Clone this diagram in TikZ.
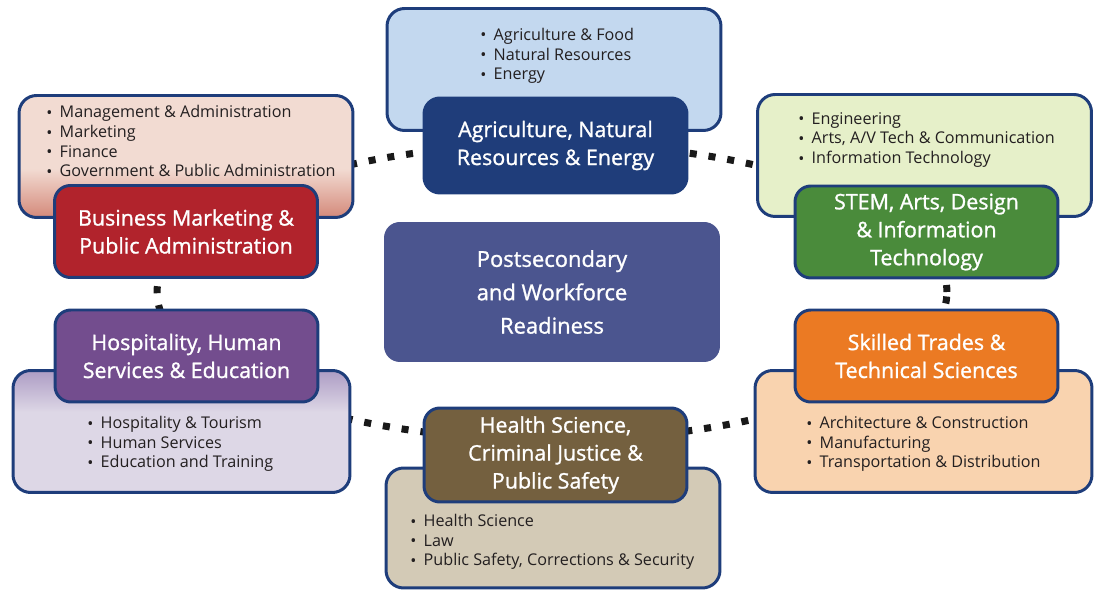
\documentclass[tikz,border=0pt]{standalone}
\usepackage{fontspec}
\setmainfont{Open Sans}
\newfontfamily\headfont[FakeBold=1.2]{Open Sans}
\newcommand\blt{\raisebox{-0.03em}{\textbullet}\hspace{0.45em}}
\definecolor{rim}{HTML}{1E3D7B}
\definecolor{ink}{HTML}{231F20}
\definecolor{bizpale}{HTML}{F2DBD2}
\definecolor{bizdeep}{HTML}{D4897A}
\definecolor{bizdark}{HTML}{B1232C}
\definecolor{agripale}{HTML}{C3D8EF}
\definecolor{agridark}{HTML}{1F3D7A}
\definecolor{stempale}{HTML}{E6F0C9}
\definecolor{stemdark}{HTML}{4A8B3B}
\definecolor{hosppale}{HTML}{DDD7E6}
\definecolor{hospdeep}{HTML}{AD9CC4}
\definecolor{hospdark}{HTML}{734D8E}
\definecolor{hlthpale}{HTML}{D3CAB6}
\definecolor{hlthdark}{HTML}{74603F}
\definecolor{skillpale}{HTML}{F9D3AF}
\definecolor{skilldark}{HTML}{EB7A23}
\definecolor{core}{HTML}{4B558F}
\pgfdeclareverticalshading{bizfade}{100bp}{color(0bp)=(bizdeep); color(25bp)=(bizdeep); color(45bp)=(bizpale); color(100bp)=(bizpale)}
\pgfdeclareverticalshading{hospfade}{100bp}{color(0bp)=(hosppale); color(58bp)=(hosppale); color(75bp)=(hospdeep); color(100bp)=(hospdeep)}
\begin{document}
\begin{tikzpicture}[x=0.02cm,y=-0.02cm,
  listbox/.style={draw=rim,line width=1.7pt,rounded corners=10pt,
    minimum width=6.68cm,minimum height=2.44cm,inner sep=0pt},
  titlebox/.style={draw=rim,line width=1.7pt,rounded corners=9pt,
    minimum width=5.26cm,minimum height=1.84cm,inner sep=0pt,
    text=white,align=center,font=\headfont\fontsize{12.2}{15.9}\selectfont},
  listtext/.style={anchor=west,inner sep=0pt,align=left,text=ink,
    font=\fontsize{9.2}{11.2}\selectfont},
  ring/.style={line width=4pt,dash pattern=on 4pt off 6.8pt,black!90}]
\useasboundingbox (0,0) rectangle (1098,590);
% dotted ring behind the boxes
\coordinate (hub) at (552,292);
\draw[ring] (hub) ellipse [x radius=7.9cm,y radius=2.96cm];
\node[listbox,shading=bizfade] (bizbox) at (186,156.5) {};
\node[listbox,fill=agripale] (agribox) at (554,69.5) {};
\node[listbox,fill=stempale] (stembox) at (924.5,155.5) {};
\node[listbox,shading=hospfade,minimum width=6.74cm] (hospbox) at (181.5,431.5) {};
\node[listbox,fill=hlthpale,minimum height=2.4cm] (hlthbox) at (553,528) {};
\node[listbox,fill=skillpale,minimum width=6.74cm] (skillbox) at (923.5,431.5) {};
\node[listtext] (bizitems) at (46,141.5) {\blt Management \& Administration\\\blt Marketing\\\blt Finance\\\blt Government \& Public Administration};
\node[listtext] (agriitems) at (480,56) {\blt Agriculture \& Food\\\blt Natural Resources\\\blt Energy};
\node[listtext] (stemitems) at (798,140) {\blt Engineering\\\blt Arts, A/V Tech \& Communication\\\blt Information Technology};
\node[listtext] (hospitems) at (87,444) {\blt Hospitality \& Tourism\\\blt Human Services\\\blt Education and Training};
\node[listtext] (hlthitems) at (410,542) {\blt Health Science\\\blt Law\\\blt Public Safety, Corrections \& Security};
\node[listtext] (skillitems) at (806,444) {\blt Architecture \& Construction\\\blt Manufacturing\\\blt Transportation \& Distribution};
\node[titlebox,fill=bizdark] (biztitle) at (186,231.5) {Business Marketing \&\\Public Administration};
\node[titlebox,fill=agridark,minimum height=1.9cm] (agrititle) at (555.5,145.5) {Agriculture, Natural\\Resources \& Energy};
\node[titlebox,fill=stemdark] (stemtitle) at (926.5,232) {STEM, Arts, Design\\\& Information\\Technology};
\node[titlebox,fill=hospdark] (hosptitle) at (186.5,356) {Hospitality, Human\\Services \& Education};
\node[titlebox,fill=hlthdark,minimum height=1.88cm] (hlthtitle) at (555.5,455) {Health Science,\\Criminal Justice \&\\Public Safety};
\node[titlebox,fill=skilldark] (skilltitle) at (926.5,356) {Skilled Trades \&\\Technical Sciences};
\node[fill=core,rounded corners=9pt,minimum width=6.72cm,minimum height=2.8cm,
  text=white,align=center,font=\headfont\fontsize{12.5}{19}\selectfont] (core) at (hub) {Postsecondary\\and Workforce\\Readiness};
\end{tikzpicture}
\end{document}
